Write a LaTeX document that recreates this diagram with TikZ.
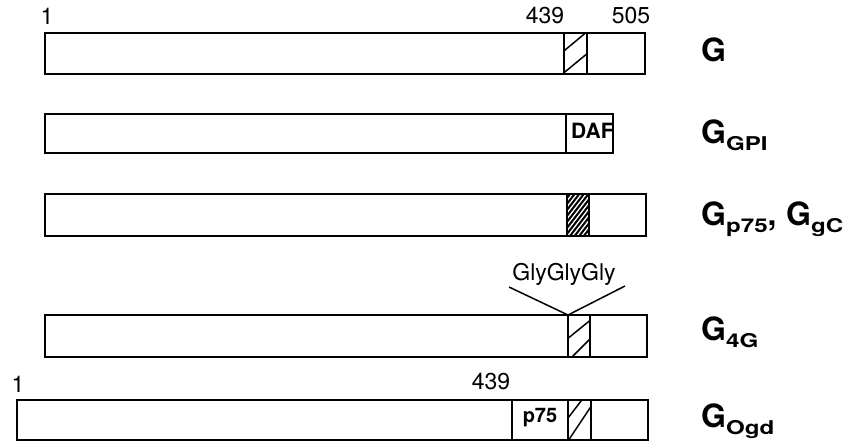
\documentclass[tikz,border=0pt]{standalone}
\usepackage{graphicx}
\usepackage{fontspec}
\setmainfont{TeX Gyre Heros}
\newcommand{\gsub}[1]{\raisebox{-7pt}{\fontsize{19}{20}\selectfont\bfseries\scalebox{1.27}[1]{#1}}}
\newcommand{\glab}[1]{{\fontsize{32}{34}\selectfont\bfseries G\gsub{#1}}}
\begin{document}
\begin{tikzpicture}[x=1pt,y=-1pt,
  seg/.style={draw=black, line width=1.5pt, fill=white, inner sep=0pt, outer sep=0pt, minimum height=#1},
  seg/.default=41pt,
  num/.style={font=\fontsize{23}{25}\selectfont, inner sep=0pt},
  inlab/.style={font=\fontsize{20}{22}\selectfont\bfseries, inner sep=0pt},
  glabel/.style={anchor=base west, inner sep=0pt},
  hatchline/.style={line width=1.5pt, black},
  vline/.style={line width=1.5pt, black}]
\useasboundingbox (0,0) rectangle (854,445);

% Row 1: G
\node[seg=41pt, minimum width=519pt] (r1a) at (304.5,53.5) {};
\node[seg=41pt, minimum width=23pt] (r1h) at (575.5,53.5) {};
\node[seg=41pt, minimum width=58pt] (r1c) at (616,53.5) {};
\begin{scope}
  \clip (r1h.south west) rectangle (r1h.north east);
  \draw[hatchline] (560,54.2) -- (592,27.6);
  \draw[hatchline] (560,76) -- (592,49.6);
\end{scope}
\draw[line width=1.5pt] (r1h.south west) rectangle (r1h.north east);
\node[num] (n1a) at (47,16) {1};
\node[num] (n1b) at (545,16) {439};
\node[num] (n1c) at (631,16) {505};
\node[glabel] (l1) at (701,61) {\glab{}};

% Row 2: G_GPI
\node[seg=39pt, minimum width=521pt] (r2a) at (305.5,133.5) {};
\node[seg=39pt, minimum width=47pt] (r2d) at (589.5,133.5) {};
\begin{scope}
  \clip (r2d.south west) rectangle (r2d.north east);
  \node[inlab, anchor=west, font=\fontsize{21}{22}\selectfont\bfseries] (daf) at (571,131) {DAF};
\end{scope}
\draw[line width=1.5pt] (r2d.south west) rectangle (r2d.north east);
\node[glabel] (l2) at (701,143) {\glab{GPI}};

% Row 3: G_p75, G_gC
\node[seg=42pt, minimum width=522pt] (r3a) at (306,215) {};
\node[seg=42pt, minimum width=22pt, fill=black] (r3h) at (578,215) {};
\node[seg=42pt, minimum width=57pt] (r3c) at (617.5,215) {};
\begin{scope}
  \clip (r3h.south west) rectangle (r3h.north east);
  \foreach \k in {0,...,13} {
    \draw[white, line width=1.3pt] (560,{198+6*\k}) -- ++(40,-52);
  }
\end{scope}
\draw[line width=1.5pt] (r3h.south west) rectangle (r3h.north east);
\node[glabel] (l3) at (701,225) {\glab{p75}{\fontsize{32}{34}\selectfont\bfseries,\hspace{0.3em}}\glab{gC}};

% Row 4: G_4G
\node[seg=42pt, minimum width=523pt] (r4a) at (306.5,336) {};
\node[seg=42pt, minimum width=22pt] (r4h) at (579,336) {};
\node[seg=42pt, minimum width=57pt] (r4c) at (618.5,336) {};
\begin{scope}
  \clip (r4h.south west) rectangle (r4h.north east);
  \draw[hatchline] (560,344.8) -- (595,316.4);
  \draw[hatchline] (560,369) -- (595,334);
\end{scope}
\draw[line width=1.5pt] (r4h.south west) rectangle (r4h.north east);
\node[num] (gly) at (564,274) {GlyGlyGly};
\coordinate (vl) at (509,287);
\coordinate (vr) at (625,286);
\draw[vline] (vl) -- (r4h.north west) -- (vr);
\node[glabel] (l4) at (701,340) {\glab{4G}};

% Row 5: G_Ogd
\node[seg=40pt, minimum width=495pt] (r5a) at (264.5,420) {};
\node[seg=40pt, minimum width=56pt] (r5p) at (540,420) {};
\node[seg=40pt, minimum width=23pt] (r5h) at (579.5,420) {};
\node[seg=40pt, minimum width=57pt] (r5c) at (619.5,420) {};
\node[inlab] (p75) at (540,418) {p75};
\begin{scope}
  \clip (r5h.south west) rectangle (r5h.north east);
  \draw[hatchline] (560,428.4) -- (595,382.9);
  \draw[hatchline] (560,453) -- (595,400.5);
\end{scope}
\draw[line width=1.5pt] (r5h.south west) rectangle (r5h.north east);
\node[num] (n5a) at (18,384) {1};
\node[num] (n5b) at (491,382) {439};
\node[glabel] (l5) at (701,427) {\glab{Ogd}};
\end{tikzpicture}
\end{document}
